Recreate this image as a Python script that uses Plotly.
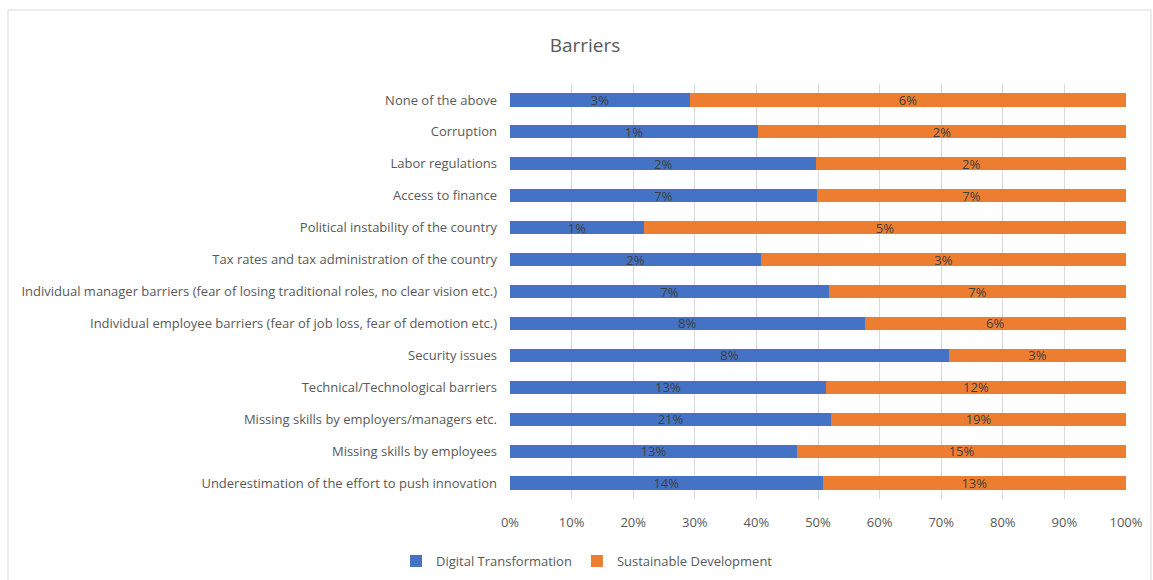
import plotly.graph_objects as go

categories = [
    "Underestimation of the effort to push innovation",
    "Missing skills by employees",
    "Missing skills by employers/managers etc.",
    "Technical/Technological barriers",
    "Security issues",
    "Individual employee barriers (fear of job loss, fear of demotion etc.)",
    "Individual manager barriers (fear of losing traditional roles, no clear vision etc.)",
    "Tax rates and tax administration of the country",
    "Political instability of the country",
    "Access to finance",
    "Labor regulations",
    "Corruption",
    "None of the above",
]
digital = [13.5, 13.1, 20.8, 12.8, 7.6, 8.0, 7.2, 2.0, 1.3, 7.0, 2.0, 1.3, 2.6]
sustainable = [13.1, 15.0, 19.1, 12.15, 3.06, 5.9, 6.7, 2.91, 4.67, 7.05, 2.02, 1.93, 6.3]
tick_vals = [0, 10, 20, 30, 40, 50, 60, 70, 80, 90, 100]
tick_text = [f"{v}%" for v in tick_vals]

FONT = "Open Sans, sans-serif"

fig = go.Figure()
for name, vals, color in [("Digital Transformation", digital, "#4472C4"),
                          ("Sustainable Development", sustainable, "#ED7D31")]:
    fig.add_trace(go.Bar(
        y=categories, x=vals, name=name, orientation="h",
        marker=dict(color=color, line=dict(width=0)),
        text=[f"{round(v + 1e-9):.0f}%" for v in vals],
        textposition="inside", insidetextanchor="middle",
        constraintext="none",
        textfont=dict(color="#404040", size=13, family=FONT),
        hoverinfo="skip",
    ))

fig.update_layout(
    barmode="stack", barnorm="percent", bargap=0.59,
    width=1153, height=580,
    margin=dict(l=510, r=27, t=84, b=81),
    paper_bgcolor="white", plot_bgcolor="white",
    font=dict(family=FONT, color="#595959", size=13),
    title=dict(text="Barriers", x=585 / 1153, xanchor="center", xref="container",
               y=1 - 45 / 580, yanchor="middle", yref="container",
               font=dict(size=19, color="#595959", family=FONT)),
    xaxis=dict(range=[0, 100], tickvals=tick_vals, ticktext=tick_text,
               showgrid=True, gridcolor="#d9d9d9", gridwidth=1,
               zeroline=False, showline=False, ticks="", fixedrange=True,
               ticklabelstandoff=14, automargin=False,
               tickfont=dict(size=13, color="#595959")),
    yaxis=dict(showgrid=False, zeroline=False, showline=False, ticks="",
               automargin=False, fixedrange=True,
               ticklabelstandoff=12, tickfont=dict(size=13, color="#595959")),
    legend=dict(orientation="h", xref="container", yref="container",
                x=396 / 1153, xanchor="left",
                y=1 - 561 / 580, yanchor="middle",
                font=dict(size=13, color="#595959"),
                itemwidth=30, traceorder="normal"),
    shapes=[dict(type="rect", xref="paper", yref="paper",
                 x0=(8 - 510) / 616, x1=(1151 - 510) / 616,
                 y0=(499 - 590) / 415, y1=(499 - 10) / 415,
                 line=dict(color="#d9d9d9", width=1), fillcolor="rgba(0,0,0,0)",
                 layer="below")],
)

fig.write_html("out.html", config={"displayModeBar": False},
               post_script="document.body.style.margin='0';")
